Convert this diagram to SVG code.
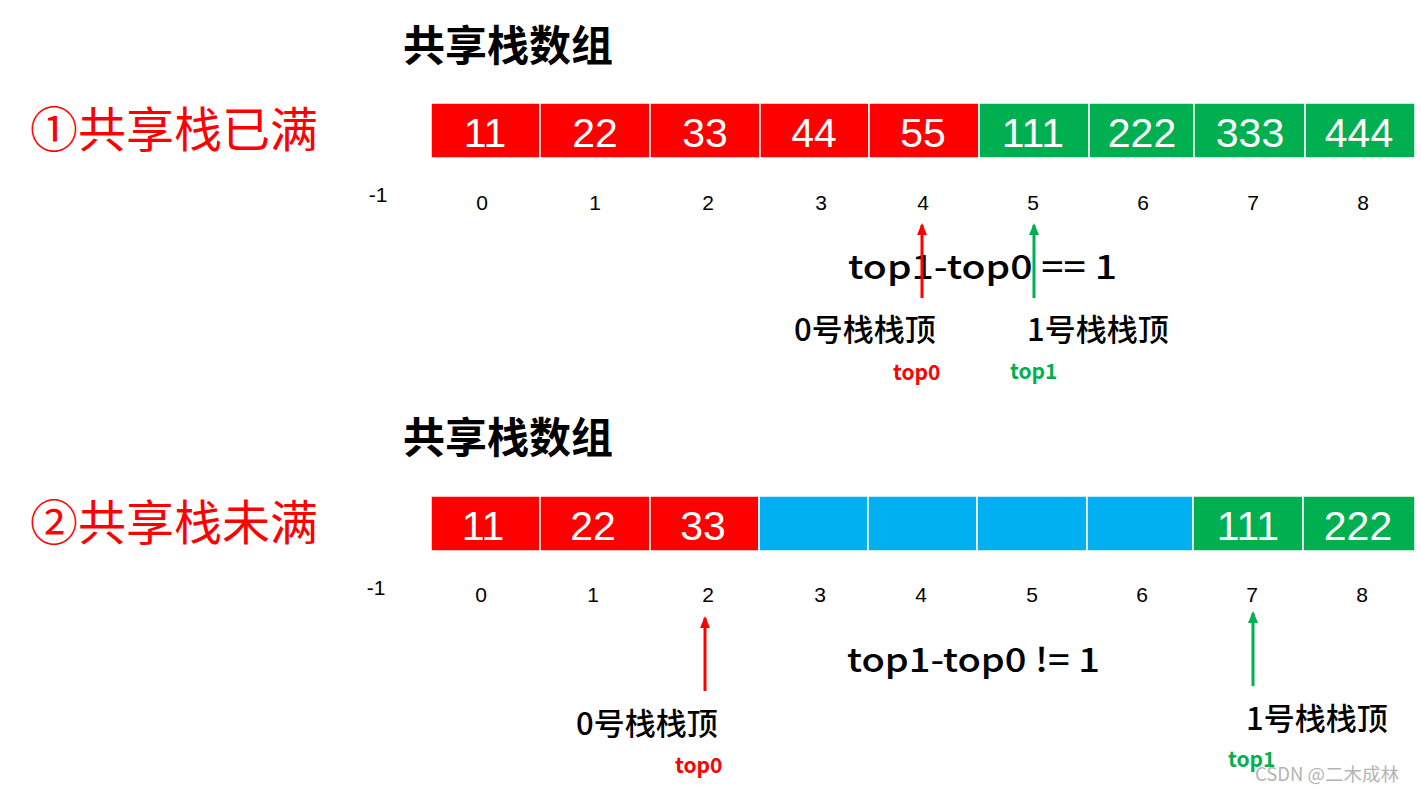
<svg xmlns="http://www.w3.org/2000/svg" width="1421" height="793" viewBox="0 0 1421 793">
<style>
.bg{fill:#ffffff}
.r{fill:#FF0000}
.g{fill:#00B050}
.b{fill:#00B0F0}
.cell{stroke:#ffffff;stroke-width:1.5}
.val{font-family:"Liberation Sans Narrow","Liberation Sans",Arial,sans-serif;font-size:41px;fill:#ffffff;text-anchor:middle}
.idx{font-family:"Liberation Sans Narrow","Liberation Sans",Arial,sans-serif;font-size:21px;fill:#000000;text-anchor:middle}
.title{font-family:"Noto Sans CJK SC",sans-serif;font-size:42px;font-weight:bold;fill:#000000;dominant-baseline:central}
.head{font-family:"Noto Sans CJK SC",sans-serif;font-size:48px;fill:#FF0000;dominant-baseline:central}
.lbl{font-family:"Noto Sans CJK SC",sans-serif;font-size:31px;font-weight:500;fill:#000000;dominant-baseline:central}
.expr{font-family:"Noto Sans CJK SC",sans-serif;font-size:33px;font-weight:500;fill:#000000}
.tr{font-family:"Noto Sans CJK SC",sans-serif;font-size:21px;font-weight:bold;fill:#FF0000}
.tg{font-family:"Noto Sans CJK SC",sans-serif;font-size:21px;font-weight:bold;fill:#00B050}
.wm{font-family:"Noto Sans CJK SC",sans-serif;font-size:18.5px;fill:#b4b4b4}
.ar{stroke:#FF0000;stroke-width:3;fill:none}
.ag{stroke:#00B050;stroke-width:3;fill:none}
</style>
<defs>
<marker id="mr" markerWidth="12" markerHeight="10" refX="10" refY="5" orient="auto" markerUnits="userSpaceOnUse" viewBox="0 0 12 10">
<path d="M0,0 L12,5 L0,10 Z" fill="#FF0000"/>
</marker>
<marker id="mg" markerWidth="12" markerHeight="10" refX="10" refY="5" orient="auto" markerUnits="userSpaceOnUse" viewBox="0 0 12 10">
<path d="M0,0 L12,5 L0,10 Z" fill="#00B050"/>
</marker>
</defs>
<rect class="bg" x="0" y="0" width="1421" height="793"/>

<g id="title1"><text class="title" x="403" y="42">共享栈数组</text></g>
<g id="heading1"><text class="head" x="30" y="126">①共享栈已满</text></g>

<g id="array1">
<rect class="r cell" x="431" y="103" width="109" height="55"/>
<rect class="r cell" x="540" y="103" width="110" height="55"/>
<rect class="r cell" x="650" y="103" width="110" height="55"/>
<rect class="r cell" x="760" y="103" width="109" height="55"/>
<rect class="r cell" x="869" y="103" width="110" height="55"/>
<rect class="g cell" x="979" y="103" width="110" height="55"/>
<rect class="g cell" x="1089" y="103" width="105" height="55"/>
<rect class="g cell" x="1194" y="103" width="111" height="55"/>
<rect class="g cell" x="1305" y="103" width="110" height="55"/>
<text class="val" x="485" y="147">11</text>
<text class="val" x="595" y="147">22</text>
<text class="val" x="705" y="147">33</text>
<text class="val" x="814" y="147">44</text>
<text class="val" x="923" y="147">55</text>
<text class="val" x="1033" y="147">111</text>
<text class="val" x="1142" y="147">222</text>
<text class="val" x="1250" y="147">333</text>
<text class="val" x="1359" y="147">444</text>
</g>

<g id="indices1">
<text class="idx" x="378" y="202">-1</text>
<text class="idx" x="482" y="210">0</text>
<text class="idx" x="595" y="210">1</text>
<text class="idx" x="708" y="210">2</text>
<text class="idx" x="821" y="210">3</text>
<text class="idx" x="923" y="210">4</text>
<text class="idx" x="1033" y="210">5</text>
<text class="idx" x="1143" y="210">6</text>
<text class="idx" x="1253" y="210">7</text>
<text class="idx" x="1363" y="210">8</text>
</g>

<g id="expr1"><text class="expr" x="848" y="279" textLength="269" lengthAdjust="spacingAndGlyphs">top1-top0 == 1</text></g>

<g id="connectors1">
<line class="ar" x1="922" y1="298" x2="922" y2="225" marker-end="url(#mr)"/>
<line class="ag" x1="1034" y1="298" x2="1034" y2="225" marker-end="url(#mg)"/>
</g>

<g id="top0label1">
<text class="lbl" x="794" y="327">0号栈栈顶</text>
<text class="tr" x="893" y="380">top0</text>
</g>
<g id="top1label1">
<text class="lbl" x="1027" y="327">1号栈栈顶</text>
<text class="tg" x="1010" y="379">top1</text>
</g>

<g id="title2"><text class="title" x="403" y="434">共享栈数组</text></g>
<g id="heading2"><text class="head" x="30" y="519">②共享栈未满</text></g>

<g id="array2">
<rect class="r cell" x="431" y="496" width="109" height="55"/>
<rect class="r cell" x="540" y="496" width="110" height="55"/>
<rect class="r cell" x="650" y="496" width="109" height="55"/>
<rect class="b cell" x="759" y="496" width="109" height="55"/>
<rect class="b cell" x="868" y="496" width="109" height="55"/>
<rect class="b cell" x="977" y="496" width="110" height="55"/>
<rect class="b cell" x="1087" y="496" width="106" height="55"/>
<rect class="g cell" x="1193" y="496" width="110" height="55"/>
<rect class="g cell" x="1303" y="496" width="112" height="55"/>
<text class="val" x="483" y="540">11</text>
<text class="val" x="593" y="540">22</text>
<text class="val" x="703" y="540">33</text>
<text class="val" x="1248" y="540">111</text>
<text class="val" x="1358" y="540">222</text>
</g>

<g id="indices2">
<text class="idx" x="376" y="595">-1</text>
<text class="idx" x="481" y="602">0</text>
<text class="idx" x="593" y="602">1</text>
<text class="idx" x="708" y="602">2</text>
<text class="idx" x="820" y="602">3</text>
<text class="idx" x="921" y="602">4</text>
<text class="idx" x="1032" y="602">5</text>
<text class="idx" x="1142" y="602">6</text>
<text class="idx" x="1252" y="602">7</text>
<text class="idx" x="1362" y="602">8</text>
</g>

<g id="expr2"><text class="expr" x="847" y="672" textLength="253" lengthAdjust="spacingAndGlyphs">top1-top0 != 1</text></g>

<g id="connectors2">
<line class="ar" x1="705" y1="691" x2="705" y2="618" marker-end="url(#mr)"/>
<line class="ag" x1="1253" y1="686" x2="1253" y2="613" marker-end="url(#mg)"/>
</g>

<g id="top0label2">
<text class="lbl" x="576" y="721">0号栈栈顶</text>
<text class="tr" x="675" y="773">top0</text>
</g>
<g id="top1label2">
<text class="lbl" x="1246" y="716">1号栈栈顶</text>
<text class="tg" x="1228" y="767">top1</text>
</g>

<g id="watermark"><text class="wm" x="1255" y="781">CSDN @二木成林</text></g>
</svg>
